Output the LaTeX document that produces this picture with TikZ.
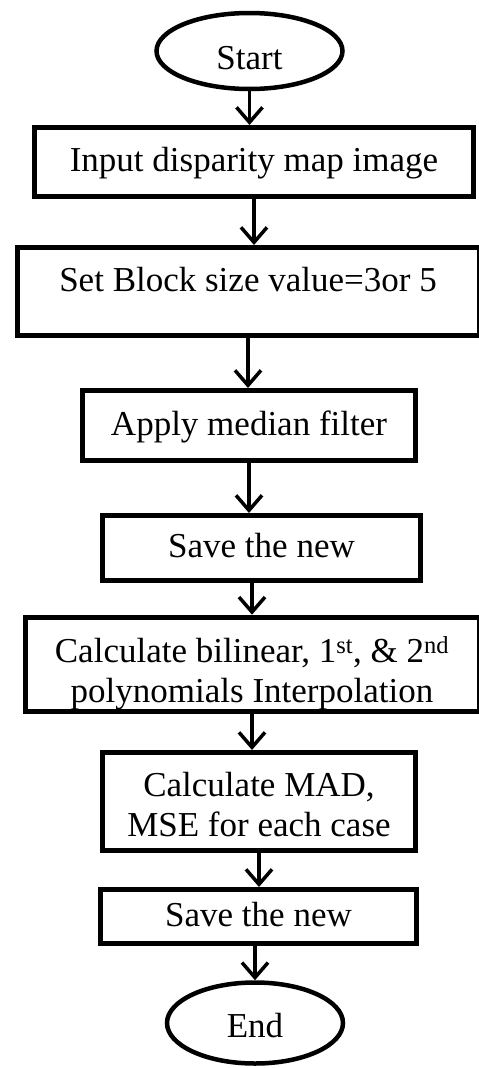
\documentclass[tikz,border=0pt]{standalone}
\usepackage{fontspec}
\setmainfont{Liberation Serif}
\usetikzlibrary{arrows.meta,shapes.geometric}
\definecolor{ink}{HTML}{000000}

\begin{document}
\begin{tikzpicture}[x=1pt,y=-1pt,font=\fontsize{35}{40}\selectfont,
  stepbox/.style={draw=ink,line width=5pt,rectangle,inner sep=2pt,text height=23pt,text depth=4pt},
  terminal/.style={draw=ink,line width=4.5pt,ellipse,inner sep=0pt,text depth=0pt},
  flow/.style={draw=ink,line width=3.5pt,-{Straight Barb[length=15pt,width=26pt]}}]
  \useasboundingbox (0,0) rectangle (479,1068);
  % terminals and steps
  \node[terminal,minimum width=186pt,minimum height=76pt,text height=36pt] (start) at (249.5,51) {Start};
  \node[stepbox,minimum width=439pt,minimum height=69pt] (in) at (254,162) {Input disparity map image};
  \node[stepbox,minimum width=462pt,minimum height=88pt,text depth=24pt] (block) at (248,291.5) {Set Block size value=3or 5};
  \node[stepbox,minimum width=333pt,minimum height=70pt] (median) at (249,425.5) {Apply median filter};
  \node[stepbox,minimum width=318pt,minimum height=65pt] (savemap) at (261.5,548) {Save the new};
  \node[stepbox,minimum width=454pt,minimum height=90pt,text height=,text depth=,align=center] (calc) at (252,664.5)
    {\rule{0pt}{43pt}Calculate bilinear, 1\textsuperscript{st}, \& 2\textsuperscript{nd}\\polynomials Interpolation};
  \node[stepbox,minimum width=313pt,minimum height=98pt,text height=,text depth=,align=center] (mad) at (259,801.5)
    {\rule{0pt}{31pt}Calculate MAD,\\MSE for each case};
  \node[stepbox,minimum width=316pt,minimum height=54pt] (saveerr) at (258.5,916.5) {Save the new};
  \node[terminal,minimum width=176pt,minimum height=81pt,text height=29pt] (stop) at (255,1023) {End};
  % connectors
  \draw[flow] (start.south) -- (start.south |- in.north);
  \draw[flow] (in.south) -- (in.south |- block.north);
  \draw[flow] (block.south) -- (block.south |- median.north);
  \draw[flow] (median.south) -- (median.south |- savemap.north);
  \draw[flow] (calc.north |- savemap.south) -- (calc.north);
  \draw[flow] (calc.south) -- (calc.south |- mad.north);
  \draw[flow] (mad.south) -- (mad.south |- saveerr.north);
  \draw[flow] (stop.north |- saveerr.south) -- (stop.north);
\end{tikzpicture}
\end{document}
